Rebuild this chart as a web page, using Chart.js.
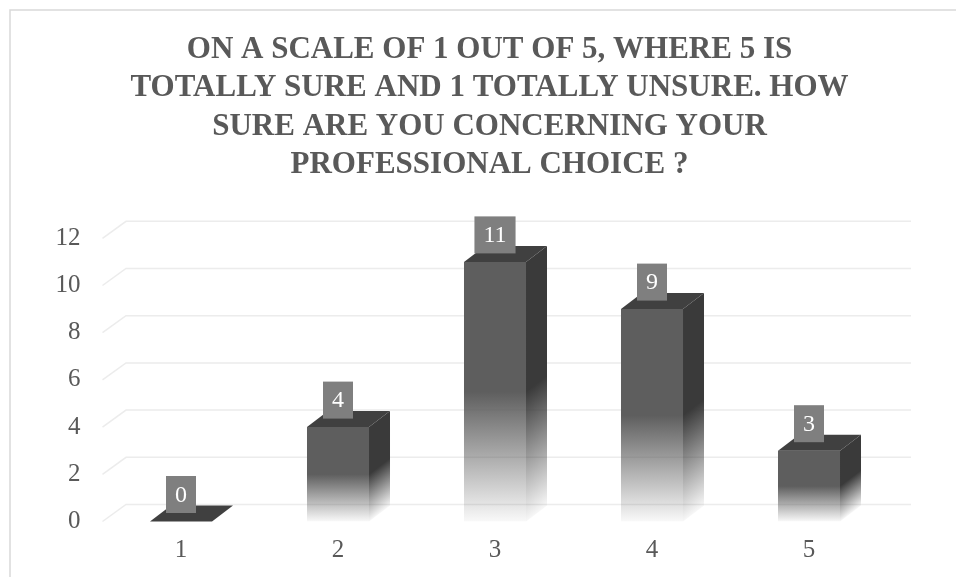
<!DOCTYPE html>
<html>
<head>
<meta charset="utf-8">
<script src="https://cdn.jsdelivr.net/npm/chart.js@4/dist/chart.umd.min.js"></script>
<style>
  html, body { margin: 0; padding: 0; background: #ffffff; }
  #wrap { width: 956px; height: 577px; }
</style>
</head>
<body>
<div id="wrap"><canvas id="c" width="956" height="577"></canvas></div>
<script>
const titleLines = [
  'ON A SCALE OF 1 OUT OF 5, WHERE 5 IS',
  'TOTALLY SURE AND 1 TOTALLY UNSURE. HOW',
  'SURE ARE YOU CONCERNING YOUR',
  'PROFESSIONAL CHOICE ?'
];
const categories = ['1', '2', '3', '4', '5'];
const values = [0, 4, 11, 9, 3];
const yTickValues = [0, 2, 4, 6, 8, 10, 12];

const FONT = '"Liberation Serif", "Times New Roman", serif';
const TEXT_COLOR = '#595959';
const DEPTH_X = 21, DEPTH_Y = 16;      // bar depth
const WALL_X = 23.5, WALL_Y = 17;      // back wall offset

function fadeGradient(ctx, y0, y1, rgb) {
  const g = ctx.createLinearGradient(0, y0, 0, y1);
  g.addColorStop(0, `rgba(${rgb},1)`);
  g.addColorStop(0.5, `rgba(${rgb},1)`);
  g.addColorStop(1, `rgba(${rgb},0.04)`);
  return g;
}

const framePlugin = {
  id: 'frame',
  beforeDraw(chart) {
    const ctx = chart.ctx;
    ctx.save();
    ctx.fillStyle = '#ffffff';
    ctx.fillRect(0, 0, chart.width, chart.height);
    ctx.strokeStyle = '#d9d9d9';
    ctx.lineWidth = 1.5;
    ctx.beginPath();
    ctx.moveTo(10, chart.height);
    ctx.lineTo(10, 10);
    ctx.lineTo(chart.width, 10);
    ctx.stroke();
    ctx.restore();
  }
};

const wallPlugin = {
  id: 'wall',
  beforeDatasetsDraw(chart) {
    const ctx = chart.ctx, y = chart.scales.y, a = chart.chartArea;
    ctx.save();
    ctx.strokeStyle = '#ececec';
    ctx.lineWidth = 1.5;
    yTickValues.forEach(v => {
      const py = y.getPixelForValue(v);
      ctx.beginPath();
      ctx.moveTo(a.left, py);
      ctx.lineTo(a.left + WALL_X, py - WALL_Y);
      ctx.lineTo(a.right + WALL_X, py - WALL_Y);
      ctx.stroke();
    });
    ctx.restore();
  }
};

const box3dPlugin = {
  id: 'box3d',
  afterDatasetsDraw(chart) {
    const ctx = chart.ctx;
    const meta = chart.getDatasetMeta(0);
    const base = chart.scales.y.getPixelForValue(0);
    meta.data.forEach((bar, i) => {
      const p = bar.getProps(['x', 'y', 'width', 'base'], true);
      const xl = p.x - p.width / 2, xr = p.x + p.width / 2;
      const top = p.y, bot = base;
      const h = bot - top;
      ctx.save();
      if (h > 0.5) {
        ctx.save();
        ctx.translate(xr, 0);
        ctx.transform(1, -DEPTH_Y / DEPTH_X, 0, 1, 0, 0);
        ctx.fillStyle = fadeGradient(ctx, top, bot, '58,58,58');
        ctx.fillRect(0, top, DEPTH_X, h);
        ctx.restore();
      }
      ctx.fillStyle = '#404040';
      ctx.beginPath();
      ctx.moveTo(xl, top);
      ctx.lineTo(xl + DEPTH_X, top - DEPTH_Y);
      ctx.lineTo(xr + DEPTH_X, top - DEPTH_Y);
      ctx.lineTo(xr, top);
      ctx.closePath();
      ctx.fill();
      ctx.restore();
    });
  },
  afterDraw(chart) {
    const ctx = chart.ctx;
    const meta = chart.getDatasetMeta(0);
    ctx.save();
    ctx.font = '24px ' + FONT;
    ctx.textAlign = 'center';
    ctx.textBaseline = 'middle';
    meta.data.forEach((bar, i) => {
      const p = bar.getProps(['x', 'y'], true);
      const label = String(values[i]);
      const w = ctx.measureText(label).width + 18;
      const hBox = 37;
      const bottom = p.y - 8.5;
      ctx.fillStyle = '#7f7f7f';
      ctx.fillRect(p.x - w / 2, bottom - hBox, w, hBox);
      ctx.fillStyle = '#ffffff';
      ctx.fillText(label, p.x, bottom - hBox / 2 + 1);
    });
    ctx.restore();
  }
};

new Chart(document.getElementById('c'), {
  type: 'bar',
  data: {
    labels: categories,
    datasets: [{
      data: values,
      yAxisID: 'y',
      barPercentage: 0.395,
      categoryPercentage: 1,
      borderWidth: 0,
      backgroundColor: (c) => {
        const chart = c.chart;
        if (!chart.chartArea) return '#5e5e5e';
        const ys = chart.scales.y;
        const top = ys.getPixelForValue(values[c.dataIndex]);
        const bot = ys.getPixelForValue(0);
        if (bot - top < 1) return '#5e5e5e';
        return fadeGradient(chart.ctx, top, bot, '94,94,94');
      }
    }]
  },
  options: {
    responsive: false,
    devicePixelRatio: 1,
    animation: false,
    layout: { padding: { top: 0, left: 23, right: 0, bottom: 0 } },
    plugins: {
      legend: { display: false },
      tooltip: { enabled: false },
      title: {
        display: true,
        text: titleLines,
        color: TEXT_COLOR,
        font: { family: FONT, size: 31, weight: 'bold', lineHeight: '38.3px' },
        padding: { top: 31, bottom: 54.1 }
      }
    },
    scales: {
      x: {
        type: 'category',
        offset: true,
        grid: { display: false, drawTicks: false },
        border: { display: false },
        ticks: { color: TEXT_COLOR, font: { family: FONT, size: 25 }, padding: 14 },
        afterFit: (s) => { s.height = 55.5; }
      },
      y: {
        position: 'left',
        min: 0,
        max: 12,
        grid: { display: false, drawTicks: false },
        border: { display: false },
        ticks: {
          stepSize: 2,
          color: TEXT_COLOR,
          font: { family: FONT, size: 25 },
          padding: 22
        },
        afterFit: (s) => { s.width = 79.5; }
      },
      yRight: {
        position: 'right',
        display: true,
        grid: { display: false, drawTicks: false },
        border: { display: false },
        ticks: { display: false },
        afterFit: (s) => { s.width = 68.5; }
      }
    }
  },
  plugins: [framePlugin, wallPlugin, box3dPlugin]
});
</script>
</body>
</html>
